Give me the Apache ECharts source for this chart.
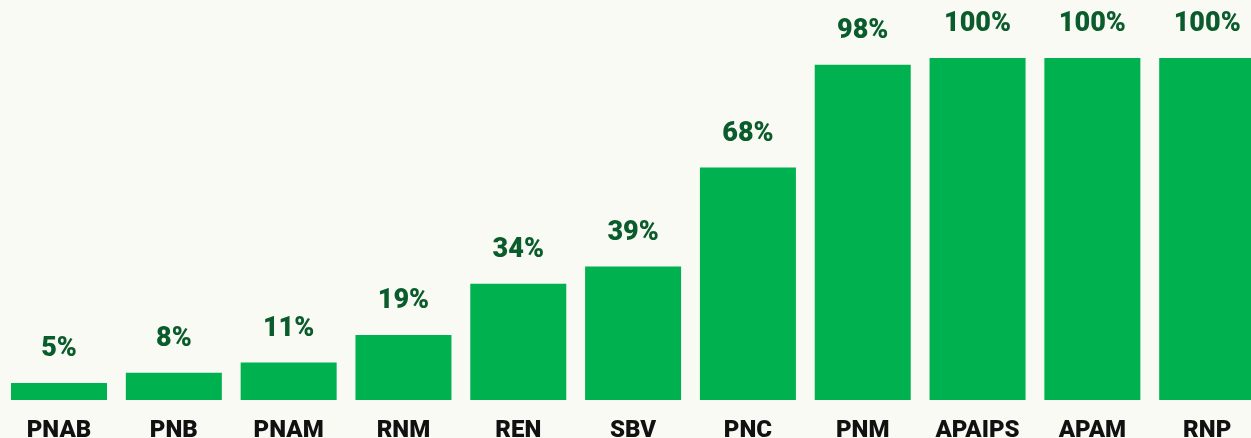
<!DOCTYPE html>
<html><head><meta charset="utf-8">
<script src="https://cdn.jsdelivr.net/npm/echarts@6/dist/echarts.min.js"></script>
<style>html,body{margin:0;padding:0;background:#fafaf4;}#c{width:1251px;height:438px;}</style>
</head><body><div id="c"></div>
<script>
const categories = ['PNAB','PNB','PNAM','RNM','REN','SBV','PNC','PNM','APAIPS','APAM','RNP'];
const values = [5, 8, 11, 19, 34, 39, 68, 98, 100, 100, 100];
const chart = echarts.init(document.getElementById('c'));
chart.setOption({
  backgroundColor: '#fafaf4',
  animation: false,
  grid: {left: 1.6, width: 1263, top: 58, height: 342, containLabel: false, outerBoundsMode: 'none'},
  xAxis: {
    type: 'category', data: categories,
    axisLine: {show: false}, axisTick: {show: false},
    axisLabel: {color: '#111', fontFamily: 'Roboto', fontWeight: 900, fontSize: 24, margin: 19, interval: 0}
  },
  yAxis: {type: 'value', min: 0, max: 100, show: false, splitLine: {show: false}},
  series: [{
    type: 'bar', data: values, barWidth: 96,
    itemStyle: {color: '#00b14f'},
    label: {show: true, position: 'top', distance: 20, formatter: '{c}%', color: '#0b5c2d',
      fontFamily: 'Roboto', fontWeight: 900, fontSize: 27}
  }]
});
</script></body></html>
